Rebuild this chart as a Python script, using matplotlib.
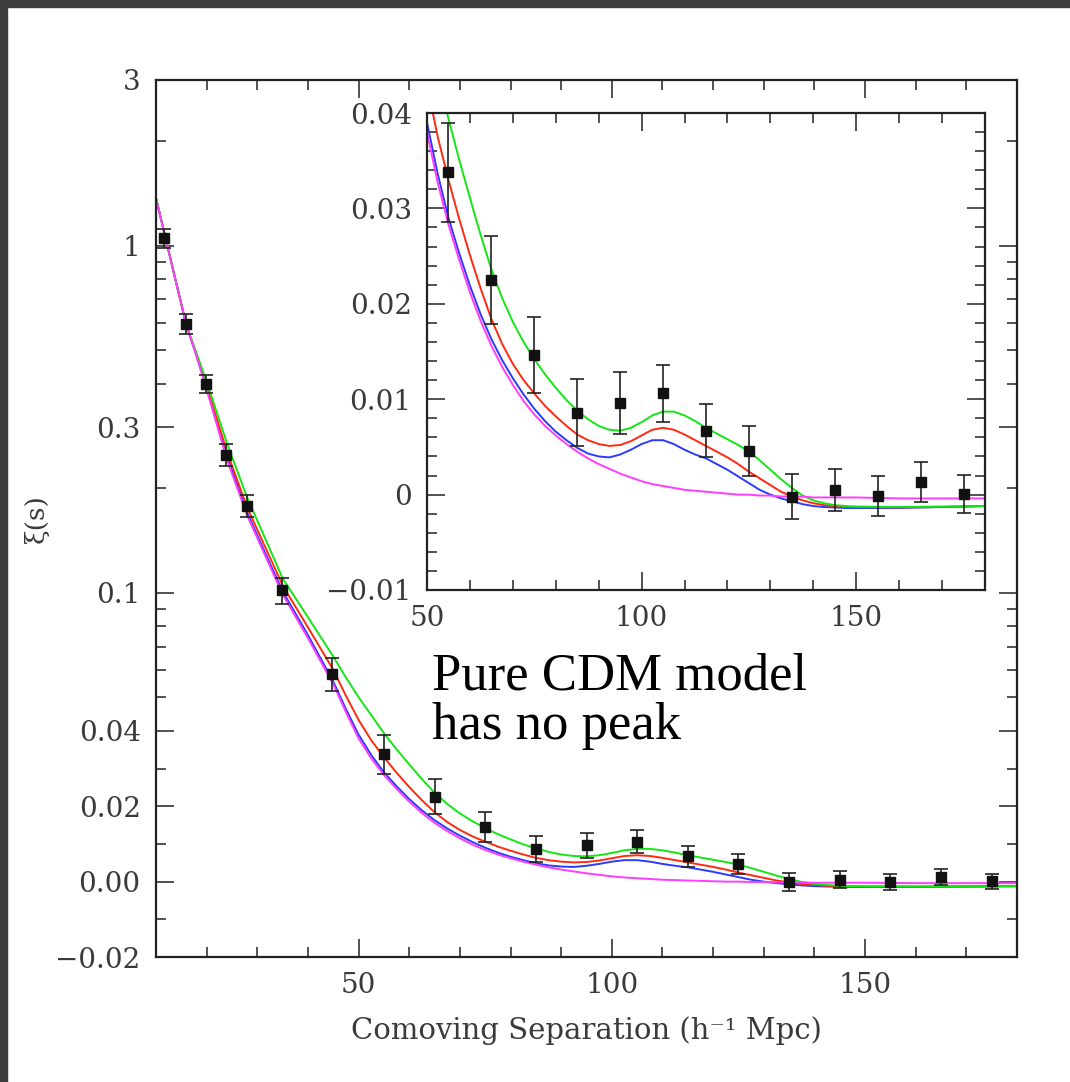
import numpy as np
import matplotlib
matplotlib.use('Agg')
import matplotlib.pyplot as plt
from matplotlib.ticker import FixedLocator, FixedFormatter, NullFormatter
from matplotlib.patches import Rectangle

# model curves (xi vs comoving separation)
sep = [10, 12, 14, 16, 18, 20, 24, 28, 32, 35, 40, 45, 47.5, 50, 52.5,
       55, 57.5, 60, 62.5, 65, 67.5, 70, 72.5, 75, 77.5,
       80, 82.5, 85, 87.5, 90, 92.5, 95, 97.5, 100, 102.5,
       105, 107.5, 110, 112.5, 115, 117.5, 120, 122.5, 125, 127.5,
       130, 132.5, 135, 137.5, 140, 142.5, 145, 147.5, 150,
       160, 170, 180]
xi_green = [1.37, 1.035, 0.78, 0.59, 0.49, 0.405, 0.27, 0.188, 0.1386, 0.110,
            0.085, 0.0655, 0.057, 0.050, 0.0444,
            0.0394, 0.0351, 0.0311, 0.0272, 0.0236, 0.0206, 0.0181, 0.0160,
            0.0142, 0.0126,
            0.0112, 0.0099, 0.0088, 0.0079, 0.0072, 0.0068, 0.0067, 0.0070,
            0.0076, 0.0083,
            0.0087, 0.0087, 0.0083, 0.0077, 0.0070, 0.0064, 0.0058, 0.0052,
            0.0045, 0.0036,
            0.0026, 0.0016, 0.0007, -0.0001, -0.0006, -0.0009, -0.0011,
            -0.0012, -0.00125,
            -0.0013, -0.00125, -0.0012]
xi_red = [1.37, 1.035, 0.78, 0.59, 0.485, 0.395, 0.255, 0.176, 0.1311, 0.105,
          0.0795, 0.060, 0.0505, 0.043, 0.0375,
          0.0330, 0.0289, 0.0251, 0.0216, 0.0184, 0.0158, 0.0137, 0.0120,
          0.0106, 0.0093,
          0.0082, 0.0072, 0.0063, 0.0057, 0.0053, 0.0051, 0.0052, 0.0056,
          0.0062, 0.0068,
          0.0070, 0.0068, 0.0063, 0.0057, 0.0051, 0.0045, 0.0039, 0.0032,
          0.0024, 0.0017,
          0.0010, 0.0003, -0.0002, -0.0006, -0.0009, -0.0011, -0.0012,
          -0.0013, -0.0013,
          -0.00133, -0.0013, -0.0012]
xi_blue = [1.37, 1.035, 0.78, 0.59, 0.482, 0.39, 0.248, 0.170, 0.126, 0.101,
           0.0755, 0.0555, 0.0462, 0.0390, 0.0336,
           0.0290, 0.0253, 0.0219, 0.0189, 0.0163, 0.0141, 0.0122, 0.0105,
           0.0090, 0.0077,
           0.0066, 0.0057, 0.0049, 0.0043, 0.0040, 0.0039, 0.0042, 0.0047,
           0.0053, 0.0057,
           0.0057, 0.0053, 0.0047, 0.0042, 0.0038, 0.0032, 0.0026, 0.0019,
           0.0012, 0.0005,
           0.0000, -0.0004, -0.0007, -0.0010, -0.0012, -0.0013, -0.00135,
           -0.0014, -0.0014,
           -0.0014, -0.0013, -0.0012]
xi_magenta = [1.37, 1.035, 0.78, 0.59, 0.48, 0.385, 0.242, 0.167, 0.1238,
              0.099, 0.074, 0.0545, 0.0453, 0.0380, 0.0327,
              0.0283, 0.0246, 0.0212, 0.0182, 0.0156, 0.0134, 0.0115, 0.0098,
              0.0084, 0.0072,
              0.0062, 0.0053, 0.0045, 0.0038, 0.0032, 0.0027, 0.0022, 0.0018,
              0.0014, 0.0011,
              0.0009, 0.0007, 0.0005, 0.0004, 0.0003, 0.0002, 0.0001, 0.0000,
              0.0000, -0.0001,
              -0.0001, -0.0002, -0.0002, -0.0002, -0.0003, -0.0003, -0.0003,
              -0.0003, -0.0003,
              -0.0004, -0.0004, -0.0004]

# measured points
data_s = [11.6, 15.9, 19.8, 23.8, 27.9, 34.9, 44.7, 55, 65, 75, 85, 95, 105,
          115, 125, 135, 145, 155, 165, 175]
data_xi = [1.05, 0.596, 0.40, 0.25, 0.178, 0.1016, 0.0585, 0.0338, 0.0225,
           0.0146, 0.0086, 0.0096, 0.0106, 0.0067, 0.0046, -0.0002, 0.0005,
           -0.0001, 0.0013, 0.0001]
data_err = [0.065, 0.04, 0.025, 0.018, 0.013, 0.0085, 0.0065, 0.0052, 0.0046,
            0.0040, 0.0035, 0.0032, 0.0030, 0.0028, 0.0026, 0.0024, 0.0022,
            0.0021, 0.0021, 0.0020]

main_ticks = [-0.02, 0.0, 0.02, 0.04, 0.1, 0.3, 1, 3]
main_labels = ['\u22120.02', '0.00', '0.02', '0.04', '0.1', '0.3', '1', '3']
main_minor = [-0.01, 0.01, 0.03, 0.05, 0.06, 0.07, 0.08, 0.09, 0.2, 0.4, 0.5,
              0.6, 0.7, 0.8, 0.9, 2]
inset_ticks = [-0.01, 0.0, 0.01, 0.02, 0.03, 0.04]
inset_labels = ['\u22120.01', '0', '0.01', '0.02', '0.03', '0.04']

C = 0.04  # linear below, logarithmic above


def fwd(y):
    y = np.asarray(y, dtype=float)
    return np.where(y > C, C * (1 + np.log(np.maximum(y, C) / C)), y)


def inv(u):
    u = np.asarray(u, dtype=float)
    return np.where(u > C, C * np.exp(np.maximum(u, C) / C - 1), u)


TICKFONT = dict(family='DejaVu Serif', size=20, color='#3a3a3a')
colors = {'blue': '#2b3bff', 'red': '#ff2a10', 'green': '#14e614',
          'magenta': '#ff3cff'}


def style(ax, maj, minr, lab, xpad):
    ax.tick_params(which='both', direction='in', top=True, right=True,
                   width=1.1, color='#222222')
    ax.tick_params(which='major', length=13, pad=xpad)
    ax.tick_params(which='minor', length=7)
    ax.xaxis.set_major_locator(FixedLocator([50, 100, 150]))
    ax.xaxis.set_minor_locator(FixedLocator(range(10, 181, 10)))
    ax.yaxis.set_major_locator(FixedLocator(maj))
    ax.yaxis.set_major_formatter(FixedFormatter(lab))
    ax.yaxis.set_minor_locator(FixedLocator(minr))
    ax.yaxis.set_minor_formatter(NullFormatter())
    for lbl in ax.get_xticklabels() + ax.get_yticklabels():
        lbl.set_fontfamily(TICKFONT['family'])
        lbl.set_fontsize(TICKFONT['size'])
        lbl.set_color(TICKFONT['color'])
    for sp in ax.spines.values():
        sp.set_linewidth(1.6)
        sp.set_color('#222222')


def draw(ax):
    ax.plot(sep, xi_blue, color=colors['blue'], lw=1.4, zorder=2)
    ax.plot(sep, xi_red, color=colors['red'], lw=1.4, zorder=2)
    ax.plot(sep, xi_green, color=colors['green'], lw=1.4, zorder=2)
    ax.plot(sep, xi_magenta, color=colors['magenta'], lw=1.4, zorder=2)
    ax.errorbar(data_s, data_xi, yerr=data_err, fmt='s', color='#111111',
                ecolor='#222222', ms=6.5, capsize=5, elinewidth=1.2,
                capthick=1.2, zorder=5)


fig = plt.figure(figsize=(10.7, 10.82), dpi=100)

ax = fig.add_axes([156 / 1070, 1 - 957 / 1082, 861 / 1070, 877 / 1082])
ax.set_yscale('function', functions=(fwd, inv))
draw(ax)
ax.set_xlim(10, 180)
ax.set_ylim(-0.02, 3)
style(ax, main_ticks, main_minor, main_labels, 11)
ax.set_xlabel('Comoving Separation (h\u207b\u00b9 Mpc)',
              family=['DejaVu Serif'], fontsize=21, color='#3a3a3a',
              labelpad=12)
ax.set_ylabel('\u03be(s)', family=['DejaVu Serif'], fontsize=19,
              color='#3a3a3a', labelpad=5)

axi = fig.add_axes([427 / 1070, 1 - 590 / 1082, 558 / 1070, 477 / 1082])
axi.set_facecolor('white')
draw(axi)
axi.set_xlim(50, 180)
axi.set_ylim(-0.01, 0.04)
style(axi, inset_ticks, np.arange(-0.01, 0.0401, 0.002), inset_labels, 11)

fig.text(432 / 1070, 1 - 652 / 1082, 'Pure CDM model\nhas no peak',
         family='Liberation Serif', fontsize=38, color='black',
         ha='left', va='top', linespacing=1.05)

# dark frame strips from the screenshot
fig.patches.append(Rectangle((0, 1 - 7 / 1082), 1, 7 / 1082,
                             transform=fig.transFigure, color='#3d3d3d'))
fig.patches.append(Rectangle((0, 0), 7 / 1070, 1,
                             transform=fig.transFigure, color='#3d3d3d'))

fig.savefig('out.png', dpi=100)
